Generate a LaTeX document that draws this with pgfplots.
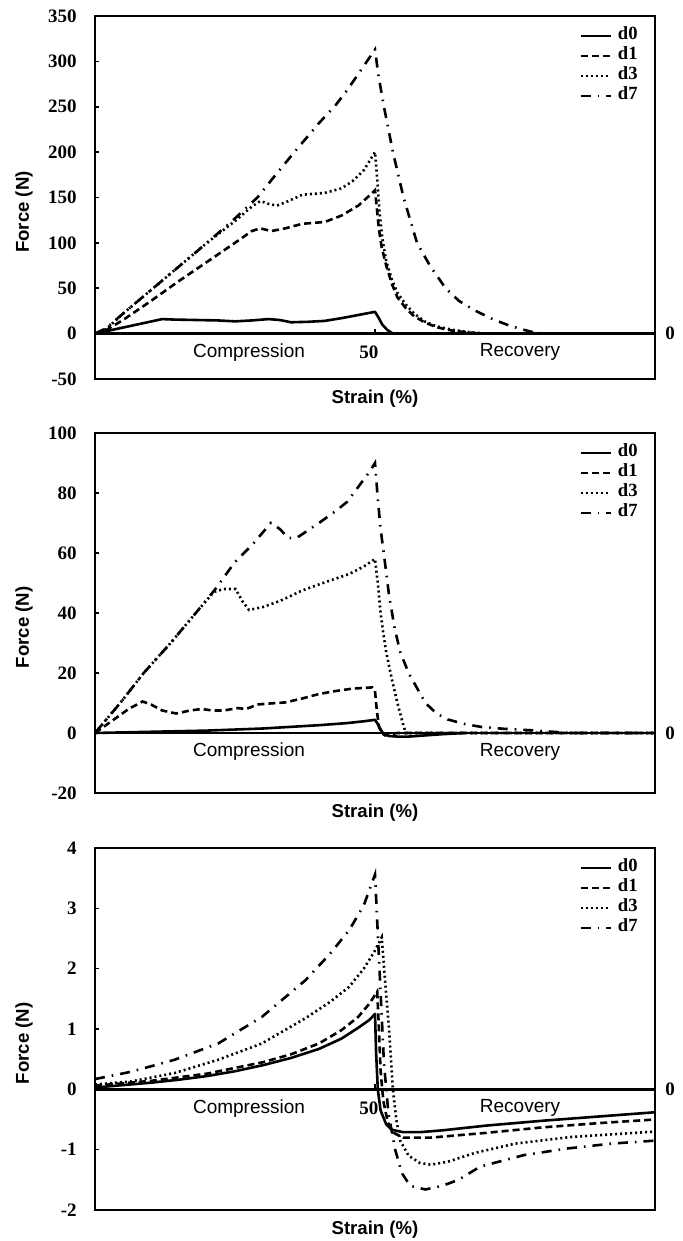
\documentclass[border=0pt]{standalone}
\usepackage{fontspec}
\setmainfont{Liberation Serif}
\newfontfamily\arial{Liberation Sans}
\usepackage{pgfplots}
\pgfplotsset{compat=1.18}

\pgfplotsset{
  panel/.style={
    scale only axis, width=280pt,
    xmin=0, xmax=100, xtick=\empty,
    axis line style={line width=1pt},
    major tick length=2pt, tick align=inside, ytick pos=left,
    tick style={black, line width=0.8pt},
    clip=false,
    /pgf/number format/assume math mode=true,
    tick label style={font=\fontsize{9.5}{9.5}\selectfont\bfseries},
    yticklabel style={inner sep=0pt, xshift=-9pt},
    xlabel={Strain (\%)}, ylabel={Force (N)},
    every axis y label/.style={at={([xshift=-35.5pt]rel axis cs:0,0.46)}, rotate=90, anchor=center,
      font=\arial\bfseries\fontsize{9.3}{10}\selectfont},
    every axis x label/.style={at={([yshift=-9.7pt]rel axis cs:0.5,0)}, anchor=center,
      font=\arial\bfseries\fontsize{9.3}{10}\selectfont},
    legend style={draw=none, fill=none, at={(rel axis cs:1,1)}, anchor=north east,
      xshift=-8pt, yshift=-4.8pt, inner sep=0pt, row sep=0pt, column sep=2.5pt,
      font=\fontsize{9.3}{9.3}\selectfont\bfseries,
      nodes={inner sep=0.5pt, text height=6.5pt, text depth=2.5pt}},
    legend cell align=left,
    legend image code/.code={\draw[#1] (0pt,0pt) -- (15pt,0pt);},
  },
  s0/.style={black, line width=1.3pt, line join=round},
  s1/.style={black, line width=1.3pt, dash pattern=on 3.5pt off 2pt},
  s3/.style={black, line width=1.3pt, dash pattern=on 1pt off 1.5pt},
  s7/.style={black, line width=1.3pt, dash pattern=on 5pt off 3.5pt on 0.8pt off 3.5pt},
}
\newcommand\phase[1]{%
  \node[font=\arial\fontsize{9.5}{10}\selectfont] at ([yshift=-9.4pt]axis cs:27.5,0) {Compression};
  \node[font=\arial\fontsize{9.5}{10}\selectfont] at ([yshift=-9.4pt]axis cs:75.9,0) {Recovery};
  \node[font=\fontsize{9.5}{9.5}\selectfont\bfseries] at ([xshift=7.5pt]axis cs:100,0) {0};
  #1}
\newcommand\fifty{%
  \node[font=\fontsize{9.5}{9.5}\selectfont\bfseries] at ([yshift=-9.4pt]axis cs:48.9,0) {50};
  \draw[line width=0.8pt] (axis cs:50,0) -- ([yshift=2.5pt]axis cs:50,0);}

\begin{document}
\begin{tikzpicture}
\useasboundingbox (0,0) rectangle (341pt,620.5pt);

% ---- panel 1
\begin{axis}[panel, at={(47.5pt,431pt)}, anchor=south west, height=181.5pt,
  ymin=-50, ymax=350, ytick={-50,0,...,350}]
\draw[line width=1.2pt] (axis cs:0,0) -- (axis cs:100,0);
\addplot[s0] coordinates {(0,0)(3,4)(6,8)(9,12)(12,16)(14,15.5)(18,15)(22,14.5)(25,13.5)(28,14.5)(31,16)(33,15)(35,12.5)(38,13)(41,14)(44,17)(47,20.5)(50,24)(50.6,18)(51.3,10)(52.2,4)(53.2,0)};
\addplot[s1] coordinates {(0,0)(1.5,2)(5,15)(10,36)(15,58)(20,79)(25,100)(28,113)(29.5,116)(31.5,113)(34,116)(37,121)(41,123)(44,130)(47,141)(49,152)(50,158)(50.3,140)(50.7,115)(51.2,95)(52,75)(53,55)(54,40)(55.5,28)(57,19)(59,12)(61,7)(64,3)(68,0.5)(70,0)};
\addplot[s3] coordinates {(0,0)(2,5)(5,22)(10,48)(15,74)(20,100)(25,124)(28,140)(29.5,146)(31,143)(32.5,141)(34.5,146)(37,153)(41,155)(44,160)(46,168)(48,180)(50,200)(50.4,170)(50.8,135)(51.3,105)(52,80)(53,60)(54,45)(55.5,32)(57,22)(59,13)(61,8)(64,4)(67,1.5)(70,0)};
\addplot[s7] coordinates {(0,0)(2,6)(5,22)(10,48)(15,74)(20,100)(25,127)(29,150)(32,173)(35.6,200)(40,232)(43,252)(45,268)(48,295)(50,313)(50.6,285)(51.6,250)(53.2,200)(55.1,150)(57.5,100)(59.8,75)(62.6,50)(65,36)(68,25)(71,16)(73.5,10)(76,5)(78,2)(80,0)};
\legend{d0,d1,d3,d7}
\phase{\fifty}
\end{axis}

% ---- panel 2
\begin{axis}[panel, at={(47.5pt,224pt)}, anchor=south west, height=180pt,
  ymin=-20, ymax=100, ytick={-20,0,...,100}]
\draw[line width=1.2pt] (axis cs:0,0) -- (axis cs:100,0);
\addplot[s0] coordinates {(0,0)(10,0.4)(20,0.8)(30,1.5)(40,2.6)(45,3.3)(48,3.9)(50,4.4)(50.5,3)(51,1.2)(51.5,-0.3)(52.5,-1)(54,-1.2)(56,-1.2)(59,-0.8)(62,-0.4)(66,0)};
\addplot[s1] coordinates {(0,0)(3,4)(6,8)(8.5,10.5)(10,9.5)(12,7.5)(14.5,6.5)(17,7.5)(19,8)(21,7.5)(23,7.5)(25.5,8.3)(27,8)(29,9.5)(31,9.8)(34,10.2)(37,11.5)(40,13)(43,14)(46,14.8)(49.5,15.2)(50,14)(50.3,8)(50.7,2)(51.2,0)(51.8,-0.8)(52.5,-0.5)(54,0)(100,0)};
\addplot[s3] coordinates {(0,0)(4.5,10)(8.7,20)(13.5,30)(18,40)(21.2,47)(23,48)(25.1,48)(26.3,44)(27.5,41)(30,42)(33,44)(37,47.5)(40.7,50)(45.4,53)(48,55.5)(50,58)(50.5,50)(51,40)(51.5,33)(52,27)(53,18)(54,10)(55,3)(55.5,0)(100,0)};
\addplot[s7] coordinates {(0,0)(4.5,10)(8.7,20)(13.5,30)(18,40)(21.5,48)(25,57)(28.2,63)(31.4,70)(33,68)(34.5,65)(36,65)(40,70)(43,74)(45,77)(47,82)(49,87)(50,90)(50.5,78)(51,68)(51.7,58)(52.5,46)(53.5,35)(54.5,27)(56,20)(57.5,15)(59,10)(61,6.5)(63,4.5)(66,3)(69,2)(73,1.4)(77,1)(81,0.5)(85,0)(100,0)};
\legend{d0,d1,d3,d7}
\phase{}
\end{axis}

% ---- panel 3
\begin{axis}[panel, at={(47.5pt,15.5pt)}, anchor=south west, height=181pt,
  ymin=-2, ymax=4, ytick={-2,-1,...,4}]
\draw[line width=1.2pt] (axis cs:0,0) -- (axis cs:100,0);
\addplot[s0] coordinates {(0,0.03)(5,0.07)(10,0.11)(15,0.16)(20,0.22)(25,0.3)(30,0.4)(35,0.52)(40,0.67)(44,0.84)(47,1.02)(49,1.15)(50,1.25)(50.2,0.6)(50.5,0)(51,-0.35)(52,-0.58)(53,-0.67)(55,-0.71)(58,-0.71)(62,-0.68)(70,-0.6)(80,-0.52)(90,-0.45)(100,-0.38)};
\addplot[s1] coordinates {(0,0.06)(10,0.14)(20,0.26)(30,0.45)(35,0.58)(40,0.76)(44,0.98)(47,1.2)(49,1.42)(50.4,1.62)(50.7,1.0)(51,0.3)(51.5,-0.2)(52.3,-0.55)(53.3,-0.72)(55,-0.8)(60,-0.8)(70,-0.72)(80,-0.63)(90,-0.56)(100,-0.5)};
\addplot[s3] coordinates {(0,0.08)(6.4,0.13)(14.2,0.27)(22,0.49)(29.8,0.76)(37.6,1.18)(42,1.45)(45.4,1.7)(48,2.0)(50,2.3)(51.2,2.52)(51.8,1.8)(52.5,1.0)(53.2,0)(53.8,-0.5)(54.5,-0.85)(56,-1.1)(58,-1.22)(60,-1.25)(63,-1.2)(68,-1.05)(75,-0.9)(85,-0.79)(100,-0.7)};
\addplot[s7] coordinates {(0,0.17)(6.4,0.29)(14.2,0.49)(22,0.76)(29.8,1.2)(37.6,1.81)(42,2.25)(45.4,2.64)(48,3.05)(50,3.56)(50.9,1.8)(51.6,0.43)(52.4,-0.4)(53.6,-1.0)(54.8,-1.39)(56.3,-1.6)(59,-1.66)(62,-1.6)(64.9,-1.5)(68.8,-1.28)(76.6,-1.09)(84.4,-0.98)(92.2,-0.9)(100,-0.85)};
\legend{d0,d1,d3,d7}
\phase{\fifty}
\end{axis}
\end{tikzpicture}
\end{document}
